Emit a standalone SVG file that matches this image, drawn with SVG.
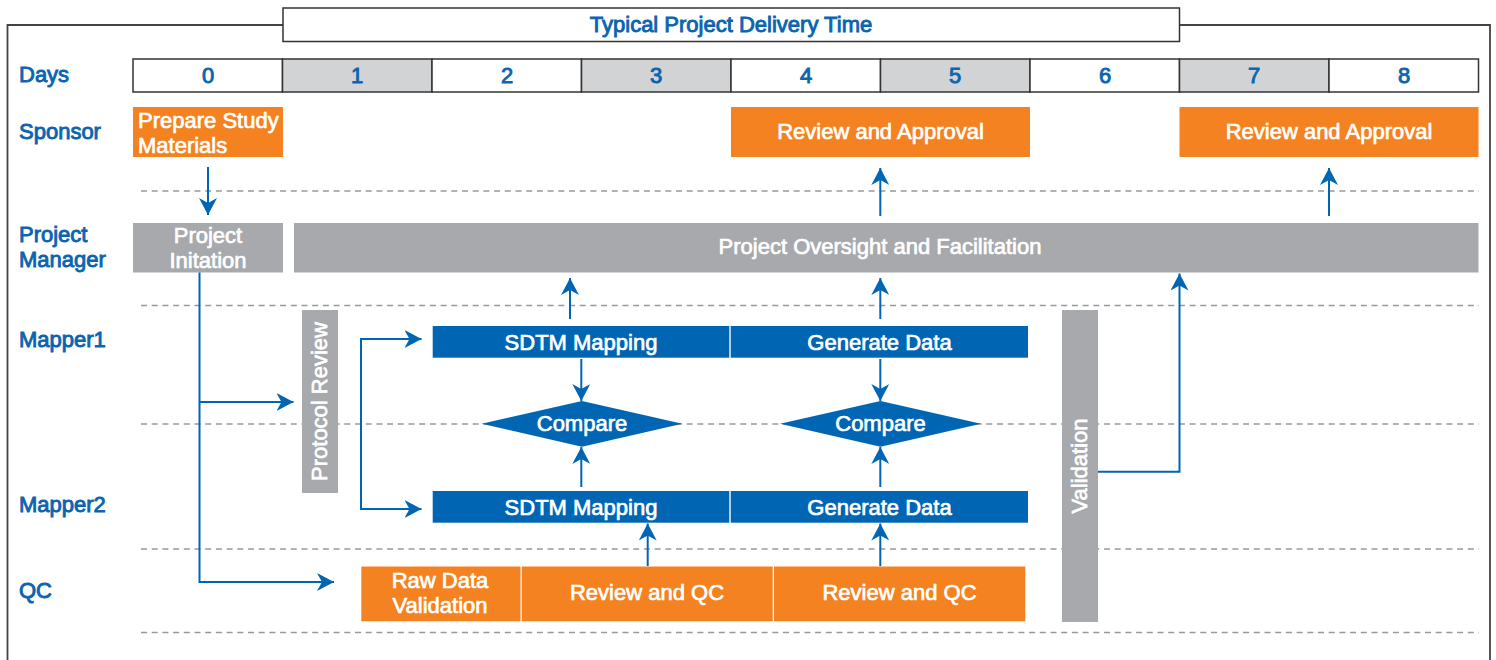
<svg xmlns="http://www.w3.org/2000/svg" width="1496" height="660" viewBox="0 0 1496 660">
<style>
text{font-family:"Liberation Sans",Arial,Helvetica,sans-serif;font-size:22px;font-weight:normal;stroke-width:0.7}
.lbl{fill:#0a64b0;stroke:#0a64b0;stroke-width:0.9}
.wt{fill:#fff;stroke:#fff;text-anchor:middle}
.wl{fill:#fff;stroke:#fff}
.day{fill:#0a64b0;stroke:#0a64b0;stroke-width:0.9;text-anchor:middle}
.cellw{fill:#fff;stroke:#333;stroke-width:1.5}
.cellg{fill:#d1d3d4;stroke:#333;stroke-width:1.5}
.or{fill:#f58220}
.gr{fill:#a7a9ac}
.bl{fill:#0066b3}
.dash{stroke:#97999c;stroke-width:1.5;stroke-dasharray:6 4.7;fill:none}
.con{stroke:#0066b3;stroke-width:2;fill:none;marker-end:url(#ah)}
.frame{stroke:#444;stroke-width:1.8;fill:none}
</style>
<defs>
<marker id="ah" markerUnits="userSpaceOnUse" markerWidth="18" markerHeight="18" viewBox="0 0 18 18" refX="17" refY="9" orient="auto">
<path d="M0,0 L17,9 L0,18 L5,9 Z" fill="#0066b3"/>
</marker>
</defs>

<g id="frame">
<path class="frame" d="M7.5,660 V25 H283 M1179.5,25 H1490 V660"/>
<rect x="283" y="8" width="896.5" height="33.5" fill="#fff" stroke="#333" stroke-width="1.5"/>
<text class="day" x="731" y="32">Typical Project Delivery Time</text>
</g>

<g id="lanes">
<text class="lbl" x="19" y="82">Days</text>
<text class="lbl" x="19" y="139">Sponsor</text>
<text class="lbl" x="19" y="242">Project</text>
<text class="lbl" x="19" y="267">Manager</text>
<text class="lbl" x="19" y="347">Mapper1</text>
<text class="lbl" x="19" y="512">Mapper2</text>
<text class="lbl" x="19" y="598">QC</text>
<line class="dash" x1="141" y1="191" x2="1479" y2="191"/>
<line class="dash" x1="141" y1="305.5" x2="1479" y2="305.5"/>
<line class="dash" x1="141" y1="424" x2="1479" y2="424"/>
<line class="dash" x1="141" y1="549" x2="1479" y2="549"/>
<line class="dash" x1="141" y1="632.5" x2="1479" y2="632.5"/>
</g>

<g id="days">
<rect class="cellw" x="133" y="59" width="149.5" height="33"/>
<rect class="cellg" x="282.5" y="59" width="149.5" height="33"/>
<rect class="cellw" x="432" y="59" width="149.5" height="33"/>
<rect class="cellg" x="581.5" y="59" width="149.5" height="33"/>
<rect class="cellw" x="731" y="59" width="149.5" height="33"/>
<rect class="cellg" x="880.5" y="59" width="149.5" height="33"/>
<rect class="cellw" x="1030" y="59" width="149.5" height="33"/>
<rect class="cellg" x="1179.5" y="59" width="149.5" height="33"/>
<rect class="cellw" x="1329" y="59" width="149.5" height="33"/>
<text class="day" x="208" y="82.5">0</text>
<text class="day" x="357" y="82.5">1</text>
<text class="day" x="507" y="82.5">2</text>
<text class="day" x="656" y="82.5">3</text>
<text class="day" x="806" y="82.5">4</text>
<text class="day" x="955" y="82.5">5</text>
<text class="day" x="1105" y="82.5">6</text>
<text class="day" x="1254" y="82.5">7</text>
<text class="day" x="1404" y="82.5">8</text>
</g>

<g id="prepare">
<rect class="or" x="133" y="107" width="150" height="50"/>
<text class="wl" x="138" y="127.5">Prepare Study</text>
<text class="wl" x="138" y="152.5">Materials</text>
</g>
<g id="approval1">
<rect class="or" x="731" y="107" width="299" height="50"/>
<text class="wt" x="880.5" y="139">Review and Approval</text>
</g>
<g id="approval2">
<rect class="or" x="1179.5" y="107" width="299" height="50"/>
<text class="wt" x="1329" y="139">Review and Approval</text>
</g>
<g id="initiation">
<rect class="gr" x="133" y="223" width="150" height="49.5"/>
<text class="wt" x="208" y="242.5">Project</text>
<text class="wt" x="208" y="267.5">Initation</text>
</g>
<g id="oversight">
<rect class="gr" x="294" y="223" width="1184.5" height="49.5"/>
<text class="wt" x="880" y="254">Project Oversight and Facilitation</text>
</g>
<g id="protocol">
<rect class="gr" x="302" y="310" width="36" height="183"/>
<text class="wt" transform="translate(326.5,401.5) rotate(-90)">Protocol Review</text>
</g>
<g id="validation">
<rect class="gr" x="1062" y="310" width="36" height="312"/>
<text class="wt" transform="translate(1086.5,466) rotate(-90)">Validation</text>
</g>
<g id="sdtm1">
<rect class="bl" x="432.7" y="326" width="296.6" height="31.7"/>
<text class="wt" x="581" y="349.5">SDTM Mapping</text>
</g>
<g id="gen1">
<rect class="bl" x="730.7" y="326" width="297.3" height="31.7"/>
<text class="wt" x="879.5" y="349.5">Generate Data</text>
</g>
<g id="compare1">
<polygon class="bl" points="481.7,423.8 582,401 682.3,423.8 582,446.7"/>
<text class="wt" x="582" y="430.5">Compare</text>
</g>
<g id="compare2">
<polygon class="bl" points="780,423.8 880.5,401 981,423.8 880.5,446.7"/>
<text class="wt" x="880.5" y="430.5">Compare</text>
</g>
<g id="sdtm2">
<rect class="bl" x="432.7" y="491" width="296.6" height="31.7"/>
<text class="wt" x="581" y="514.5">SDTM Mapping</text>
</g>
<g id="gen2">
<rect class="bl" x="730.7" y="491" width="297.3" height="31.7"/>
<text class="wt" x="879.5" y="514.5">Generate Data</text>
</g>
<g id="rawdata">
<rect class="or" x="361.3" y="566.5" width="159.2" height="54.8"/>
<text class="wt" x="440" y="588">Raw Data</text>
<text class="wt" x="440" y="613">Validation</text>
</g>
<g id="qc1">
<rect class="or" x="521.7" y="566.5" width="251" height="54.8"/>
<text class="wt" x="647" y="600">Review and QC</text>
</g>
<g id="qc2">
<rect class="or" x="774" y="566.5" width="251.3" height="54.8"/>
<text class="wt" x="899.5" y="600">Review and QC</text>
</g>

<g id="connectors">
<path class="con" d="M208,167 V215"/>
<path class="con" d="M199.5,272.5 V582 H334"/>
<path class="con" d="M199.5,402 H293.5"/>
<path class="con" d="M361,424 V339 H421.5"/>
<path class="con" d="M361,424 V509 H421.5"/>
<path class="con" d="M570,319 V278"/>
<path class="con" d="M880.3,319 V278"/>
<path class="con" d="M880.3,216 V168"/>
<path class="con" d="M1329,216 V168"/>
<path class="con" d="M581.3,359 V401"/>
<path class="con" d="M880.3,359 V401"/>
<path class="con" d="M581.3,487 V447"/>
<path class="con" d="M880.3,487 V447"/>
<path class="con" d="M647.7,566 V523.5"/>
<path class="con" d="M880.3,566 V523.5"/>
<path class="con" d="M1098,471.7 H1179.5 V273.5"/>
</g>
</svg>
